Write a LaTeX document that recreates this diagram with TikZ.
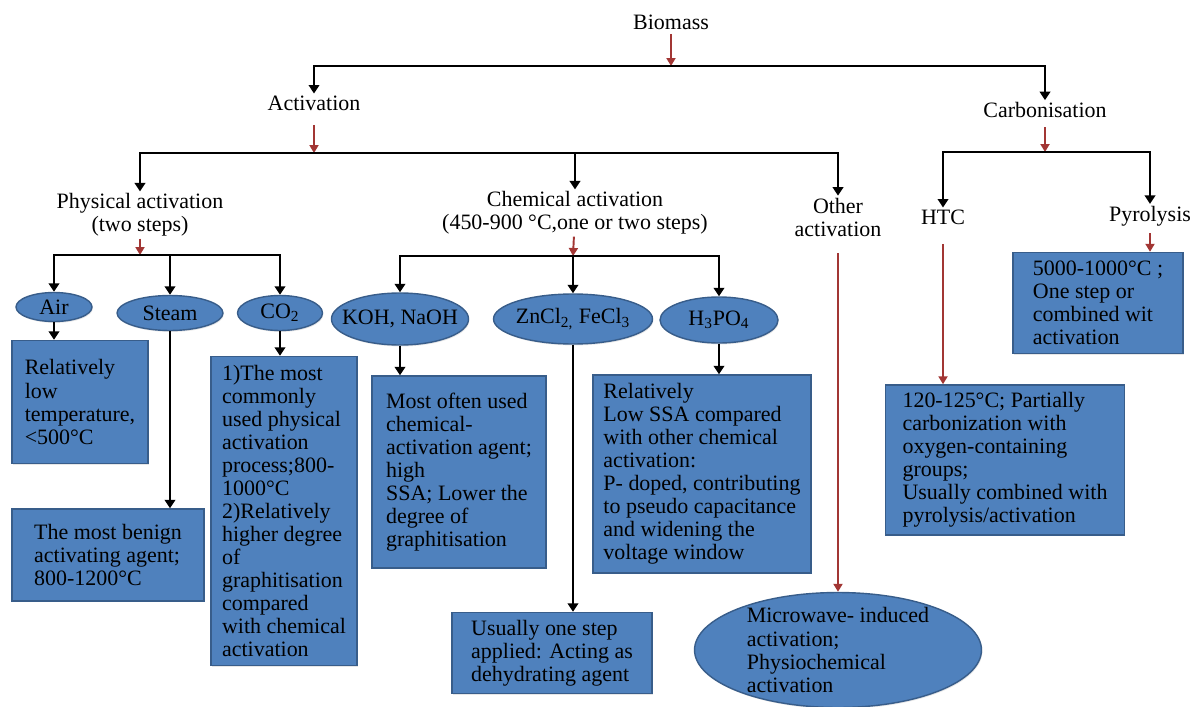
\documentclass[tikz,border=0pt]{standalone}
\usepackage{fontspec}
\setmainfont{Liberation Serif}
\usetikzlibrary{shapes.geometric,arrows.meta,shadows}
\definecolor{boxblue}{RGB}{79,129,189}
\definecolor{boxedge}{RGB}{56,93,138}
\definecolor{arrowred}{RGB}{162,54,52}

\begin{document}
\begin{tikzpicture}[
    x=0.02cm, y=-0.02cm,
    font=\fontsize{12.5}{13.1}\selectfont,
    heading/.style={align=center, inner sep=1pt},
    infobox/.style={rectangle, draw=boxedge, fill=boxblue, line width=0.8pt,
                    align=left, inner sep=0.15cm,
                    drop shadow={opacity=0.2, shadow xshift=0.5pt, shadow yshift=-0.8pt}},
    agent/.style={ellipse, draw=boxedge, fill=boxblue, line width=0.8pt,
                  align=left, inner xsep=2pt, inner ysep=0pt,
                  drop shadow={opacity=0.2, shadow xshift=0.5pt, shadow yshift=-0.8pt}},
    arr/.style={-{Triangle[length=1.7mm,width=2.1mm]}, line width=1.6pt},
    redarr/.style={-{Triangle[length=1.6mm,width=1.8mm]}, line width=1.1pt, arrowred},
  ]
    \useasboundingbox (0,0) rectangle (1192,706);

    % Top level
    \node[heading] (biomass) at (671,22) {Biomass};
    \node[heading] (activation) at (314,103) {Activation};
    \node[heading] (carbon) at (1045,110) {Carbonisation};
    \coordinate (topbar) at (671,66);
    \draw[redarr, shorten <=0.05cm] (biomass) -- (topbar);
    \draw[arr] (topbar) -| (activation);
    \draw[arr] (topbar) -| (carbon);

    % Activation routes
    \node[heading] (physical) at (140,215) {Physical activation\\(two steps)};
    \node[heading] (chemical) at (575,213) {Chemical activation\\(450-900 °C,one or two steps)};
    \node[heading] (other) at (838,217) {Other\\activation};
    \coordinate (actbar) at (314,153);
    \draw[redarr, shorten <=0.25cm] (activation) -- (actbar);
    \draw[arr] (actbar) -| (physical);
    \draw[arr] (actbar) -| (chemical);
    \draw[arr] (actbar) -| (other);

    % Carbonisation routes
    \node[heading] (htc) at (943,217) {HTC};
    \node[heading] (pyrolysis) at (1150,216) {Pyrolysis};
    \coordinate (carbar) at (1045,152);
    \draw[redarr, shorten <=0.15cm] (carbon) -- (carbar);
    \draw[arr] (carbar) -| (htc);
    \draw[arr] (carbar) -| (pyrolysis);

    % Physical activation agents
    \coordinate (physbar) at (140,255);
    \node[agent, minimum width=1.52cm, minimum height=0.58cm] (air) at (54,307) {Air};
    \node[agent, minimum width=2.12cm, minimum height=0.7cm] (steam) at (170,313) {Steam};
    \node[agent, minimum width=1.7cm, minimum height=0.7cm] (co2) at (280,313) {CO\textsubscript{2}};
    \draw[redarr] (physical) -- (physbar);
    \draw[arr] (physbar) -| (air);
    \draw[arr] (physbar) -| (steam);
    \draw[arr] (physbar) -| (co2);

    \node[infobox, minimum width=2.72cm, minimum height=2.46cm] (airbox) at (80,402)
      {Relatively\\low\\temperature,\\<500°C};
    \node[infobox, minimum width=3.84cm, minimum height=1.84cm] (steambox) at (108,555)
      {The most benign\\activating agent;\\800-1200°C};
    \node[infobox, minimum width=2.92cm, minimum height=6.18cm] (co2box) at (284,511)
      {1)The most\\commonly\\used physical\\activation\\process;800-\\1000°C\\2)Relatively\\higher degree\\of\\graphitisation\\compared\\with chemical\\activation};
    \draw[arr] (air) -- (air |- airbox.north);
    \draw[arr] (steam) -- (steam |- steambox.north);
    \draw[arr] (co2) -- (co2 |- co2box.north);

    % Chemical activation agents
    \coordinate (chembar) at (573,256);
    \node[agent, minimum width=2.74cm, minimum height=1.04cm, inner xsep=-0.19cm] (koh) at (400,319) {KOH, NaOH};
    \node[agent, minimum width=3.18cm, minimum height=1.0cm, inner xsep=-0.05cm] (zncl) at (573,319) {ZnCl\textsubscript{2,} FeCl\textsubscript{3}};
    \node[agent, minimum width=2.36cm, minimum height=0.92cm] (hpo) at (719,320) {H\textsubscript{3}PO\textsubscript{4}};
    \draw[redarr] (chemical) -- (chembar);
    \draw[arr] (chembar) -| (koh);
    \draw[arr] (chembar) -| (zncl);
    \draw[arr] (chembar) -| (hpo);

    \node[infobox, minimum width=3.48cm, minimum height=3.84cm] (kohbox) at (459,472)
      {Most often used\\chemical-\\activation agent;\\high\\SSA; Lower the\\degree of\\graphitisation};
    \node[infobox, minimum width=4.0cm, minimum height=1.54cm] (znclbox) at (552,653)
      {Usually one step\\applied: Acting as\\dehydrating agent};
    \node[infobox, minimum width=4.36cm, minimum height=3.96cm] (hpobox) at (702,474)
      {Relatively\\Low SSA compared\\with other chemical\\activation:\\P- doped, contributing\\to pseudo capacitance\\and widening the\\voltage window};
    \draw[arr] (koh) -- (koh |- kohbox.north);
    \draw[arr] (zncl) -- (zncl |- znclbox.north);
    \draw[arr] (hpo) -- (hpo |- hpobox.north);

    % Other activation
    \node[agent, minimum width=5.74cm, minimum height=2.3cm, inner ysep=-0.2cm] (micro) at (838,650)
      {Microwave- induced\\activation;\\Physiochemical\\activation};
    \draw[redarr, shorten <=0.3cm] (other) -- (micro);

    % Carbonisation details
    \node[infobox, minimum width=4.78cm, minimum height=3.0cm] (htcbox) at (1005,460)
      {120-125°C; Partially\\carbonization with\\oxygen-containing\\groups;\\Usually combined with\\pyrolysis/activation};
    \node[infobox, minimum width=3.4cm, minimum height=2.02cm] (pyrobox) at (1098,303)
      {5000-1000°C ;\\One step or\\combined wit\\activation};
    \draw[redarr, shorten <=0.35cm] (htc) -- (htc |- htcbox.north);
    \draw[redarr, shorten <=0.1cm] (pyrolysis) -- (pyrolysis |- pyrobox.north);
  \end{tikzpicture}
\end{document}
